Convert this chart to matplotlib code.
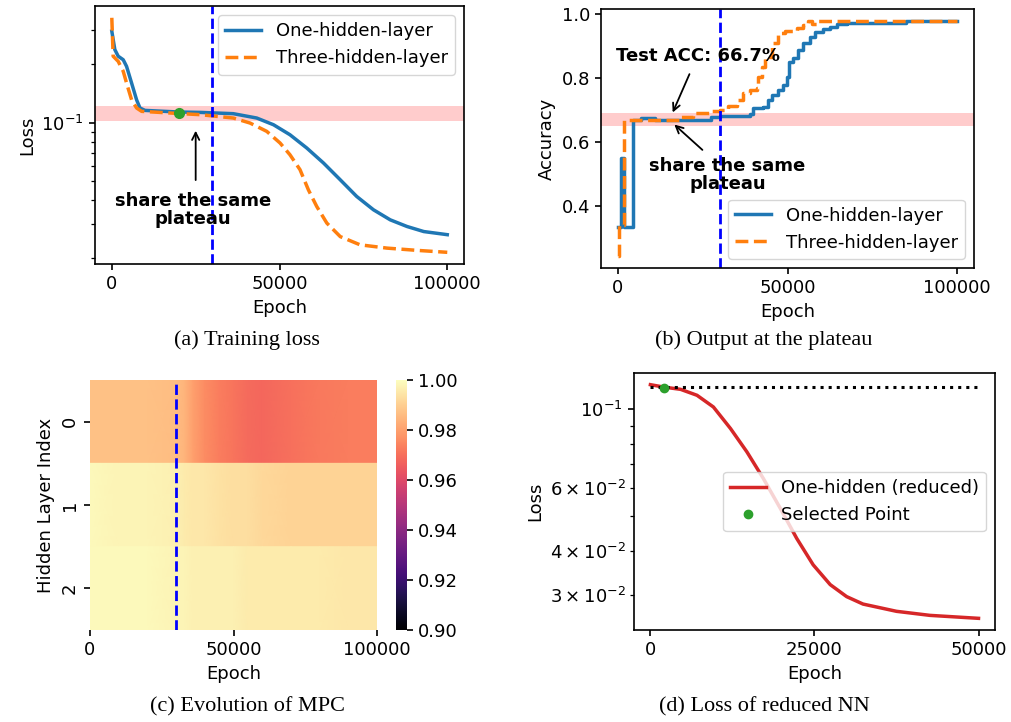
import numpy as np
import matplotlib
matplotlib.use("Agg")
import matplotlib.pyplot as plt

# ---- (a) training loss ----
loss_one_ep = [0, 900, 1900, 3400, 4400, 5900, 7400, 8400, 9900, 20000, 26300, 36200, 43200,
               48200, 53100, 58100, 63100, 68100, 73000, 78000, 83000, 88000, 93000, 100000]
loss_one = [0.296, 0.238, 0.220, 0.211, 0.195, 0.160, 0.131, 0.119, 0.1157, 0.1135, 0.113, 0.1113,
            0.1057, 0.0976, 0.0867, 0.0741, 0.0620, 0.0508, 0.0417, 0.0356, 0.0316, 0.0292,
            0.0275, 0.0265]
loss_three_ep = [0, 400, 1900, 3400, 4400, 5900, 7400, 8900, 20000, 26300, 36200, 41200, 46200,
                 50150, 53100, 56100, 58600, 61100, 64100, 68100, 74000, 82000, 91000, 100000]
loss_three = [0.347, 0.220, 0.207, 0.184, 0.160, 0.131, 0.119, 0.1144, 0.1115, 0.110, 0.1057, 0.0996,
              0.0902, 0.0786, 0.0684, 0.0573, 0.0451, 0.0370, 0.0304, 0.0259, 0.0235, 0.0226,
              0.0220, 0.0215]
loss_band = (0.102, 0.122)
loss_point = (20000, 0.112)

# ---- (b) accuracy (step curves) ----
acc_one_ep = [0, 800, 1700, 4300, 6700, 11000, 24300, 27300, 30200, 39000, 39900, 42800, 44300,
              45400, 47200, 48700, 49900, 50500, 51700, 53100, 54500, 56600, 58100, 60400,
              62500, 64500, 67400, 85000, 100000]
acc_one = [0.335, 0.55, 0.335, 0.667, 0.674, 0.667, 0.669, 0.677, 0.681, 0.6875, 0.705, 0.71, 0.731,
           0.747, 0.7625, 0.778, 0.804, 0.851, 0.861, 0.8875, 0.908, 0.929, 0.945, 0.952,
           0.96, 0.969, 0.973, 0.979, 0.979]
acc_three_ep = [0, 400, 1700, 18500, 22000, 24300, 27300, 30200, 32500, 35200, 37000, 39000, 41000,
                41400, 42400, 43400, 45400, 47300, 49300, 52700, 54600, 56100, 57200, 59000, 100000]
acc_three = [0.242, 0.34, 0.667, 0.679, 0.69, 0.69, 0.698, 0.70, 0.7125, 0.731, 0.752, 0.7625, 0.768,
             0.804, 0.835, 0.867, 0.908, 0.94, 0.948, 0.955, 0.966, 0.979, 0.969, 0.979, 0.979]
acc_band = (0.65, 0.69)

# ---- (c) MPC heatmap ----
mpc_ep = [0, 10000, 20000, 30000, 33000, 36000, 40000, 45000, 50000, 55000, 60000, 70000, 80000,
          90000, 100000]
mpc_rows = [
    [0.987, 0.987, 0.987, 0.986, 0.984, 0.980, 0.976, 0.973, 0.971, 0.969, 0.968, 0.970, 0.972,
     0.973, 0.973],
    [0.999, 0.998, 0.998, 0.997, 0.996, 0.995, 0.995, 0.994, 0.993, 0.993, 0.992, 0.991, 0.991,
     0.991, 0.991],
    [0.999, 0.999, 0.999, 0.998, 0.998, 0.997, 0.997, 0.997, 0.997, 0.996, 0.996, 0.996, 0.996,
     0.995, 0.995],
]
layer_labels = ["0", "1", "2"]

# ---- (d) reduced NN loss ----
red_ep = [0, 2000, 4600, 7100, 9600, 12200, 14700, 17200, 19800, 22300, 24800, 27400, 29900,
          32400, 37500, 42600, 50000]
red_loss = [0.1173, 0.1155, 0.1138, 0.1095, 0.1015, 0.0883, 0.0759, 0.0639, 0.0526, 0.0433,
            0.0365, 0.0321, 0.0297, 0.0283, 0.0270, 0.0263, 0.0258]
red_ref = 0.1153
red_point = (2000, 0.115)

plateau_epoch = 30000

plt.rcParams.update({
    "font.size": 13,
    "axes.linewidth": 1.2,
    "xtick.major.width": 1.2,
    "ytick.major.width": 1.2,
    "xtick.major.size": 4.5,
    "ytick.major.size": 4.5,
    "ytick.minor.size": 2.6,
    "ytick.minor.width": 0.9,
})

fig = plt.figure(figsize=(10.11, 7.22), dpi=100)

# (a)
ax = fig.add_axes([0.094, 0.6343, 0.365, 0.3573])
ax.axhspan(*loss_band, color="red", alpha=0.2, lw=0)
ax.plot(loss_one_ep, loss_one, color="tab:blue", lw=2.5, label="One-hidden-layer")
ax.plot(loss_three_ep, loss_three, color="tab:orange", lw=2.5, ls="--", label="Three-hidden-layer")
ax.plot(*loss_point, "o", color="tab:green", ms=7)
ax.axvline(plateau_epoch, color="blue", ls="--", lw=2)
ax.set_yscale("log")
ax.set_xticks([0, 50000, 100000])
ax.annotate("", xy=(25000, 0.094), xytext=(25000, 0.049),
            arrowprops=dict(arrowstyle="->", color="black", lw=1.3))
ax.text(24200, 0.0356, "share the same\nplateau", ha="center", va="center",
        fontweight="bold", linespacing=1.0)
ax.set_xlabel("Epoch")
ax.set_ylabel("Loss")
ax.legend(loc="upper right")

# (b)
ax = fig.add_axes([0.5945, 0.6288, 0.369, 0.3587])
ax.axhspan(*acc_band, color="red", alpha=0.2, lw=0)
ax.plot(acc_one_ep, acc_one, color="tab:blue", lw=2.5, drawstyle="steps-post", label="One-hidden-layer")
ax.plot(acc_three_ep, acc_three, color="tab:orange", lw=2.5, ls="--", drawstyle="steps-post",
        label="Three-hidden-layer")
ax.axvline(plateau_epoch, color="blue", ls="--", lw=2)
ax.set_xticks([0, 50000, 100000])
ax.annotate("", xy=(15800, 0.684), xytext=(21400, 0.82),
            arrowprops=dict(arrowstyle="->", color="black", lw=1.3))
ax.text(23500, 0.868, "Test ACC: 66.7%", ha="center", va="center", fontweight="bold")
ax.annotate("", xy=(16000, 0.66), xytext=(25500, 0.569),
            arrowprops=dict(arrowstyle="->", color="black", lw=1.3))
ax.text(32300, 0.497, "share the same\nplateau", ha="center", va="center",
        fontweight="bold", linespacing=1.0)
ax.set_xlabel("Epoch")
ax.set_ylabel("Accuracy")
ax.legend(loc="lower right")

# (c)
ax = fig.add_axes([0.089, 0.1274, 0.284, 0.3463])
cax = fig.add_axes([0.3917, 0.1274, 0.0109, 0.3463])
mesh = None
for i, row in enumerate(mpc_rows):
    X, Y = np.meshgrid(mpc_ep, [i, i + 1])
    C = np.vstack([row, row])
    mesh = ax.pcolormesh(X, Y, C, cmap="magma", vmin=0.9, vmax=1.0, shading="gouraud")
ax.set_xlim(0, 100000)
ax.set_ylim(3, 0)
ax.axvline(plateau_epoch, color="blue", ls="--", lw=2)
ax.set_yticks([0.5, 1.5, 2.5])
ax.set_yticklabels(layer_labels, rotation=90, va="center")
ax.set_xticks([0, 50000, 100000])
for s in ax.spines.values():
    s.set_visible(False)
ax.set_xlabel("Epoch")
ax.set_ylabel("Hidden Layer Index")
cb = fig.colorbar(mesh, cax=cax, ticks=[0.90, 0.92, 0.94, 0.96, 0.98, 1.00], format="%.2f")
cb.outline.set_visible(False)

# (d)
ax = fig.add_axes([0.6271, 0.1274, 0.357, 0.356])
ax.plot(red_ep, red_loss, color="tab:red", lw=2.5, label="One-hidden (reduced)")
ax.hlines(red_ref, 0, 50000, colors="black", linestyles=":", lw=2.2)
ax.plot(*red_point, "o", color="tab:green", ms=6, label="Selected Point")
ax.set_yscale("log")
ax.set_xticks([0, 25000, 50000])
ax.set_xlabel("Epoch")
ax.set_ylabel("Loss")
ax.legend(loc="center right")

# captions
cap = dict(ha="center", va="center", fontsize=16, family="Liberation Serif")
fig.text(247 / 1011, 1 - 340 / 722, "(a) Training loss", **cap)
fig.text(764 / 1011, 1 - 340 / 722, "(b) Output at the plateau", **cap)
fig.text(247 / 1011, 1 - 707 / 722, "(c) Evolution of MPC", **cap)
fig.text(764 / 1011, 1 - 707 / 722, "(d) Loss of reduced NN", **cap)

fig.savefig("out.png", dpi=100)
